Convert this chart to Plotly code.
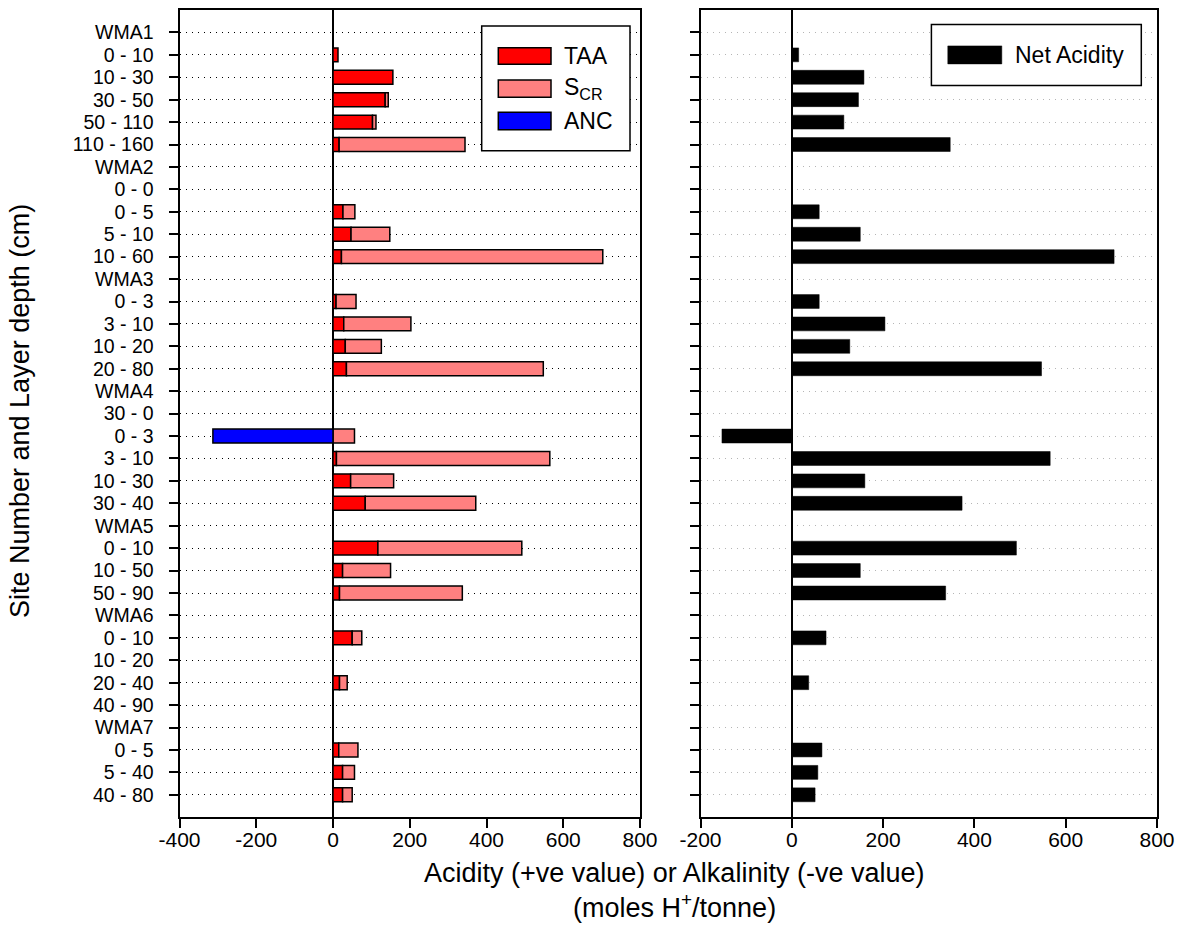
import plotly.graph_objects as go

# ---- data ----
row_labels = ["WMA1", "0 - 10", "10 - 30", "30 - 50", "50 - 110", "110 - 160",
              "WMA2", "0 - 0", "0 - 5", "5 - 10", "10 - 60",
              "WMA3", "0 - 3", "3 - 10", "10 - 20", "20 - 80",
              "WMA4", "30 - 0", "0 - 3", "3 - 10", "10 - 30", "30 - 40",
              "WMA5", "0 - 10", "10 - 50", "50 - 90",
              "WMA6", "0 - 10", "10 - 20", "20 - 40", "40 - 90",
              "WMA7", "0 - 5", "5 - 40", "40 - 80"]

taa = [None, 13, 156, 136, 103, 16,
       None, None, 26, 47, 22,
       None, 8, 28, 32, 35,
       None, None, None, 9, 46, 84,
       None, 117, 25, 17,
       None, 50, None, 17, None,
       None, 15, 25, 25]

scr = [None, None, None, 8, 9, 328,
       None, None, 31, 101, 681,
       None, 52, 175, 94, 513,
       None, None, 56, 556, 112, 288,
       None, 375, 125, 320,
       None, 25, None, 20, None,
       None, 50, 31, 25]

anc = [None, None, None, None, None, None,
       None, None, None, None, None,
       None, None, None, None, None,
       None, None, -313, None, None, None,
       None, None, None, None,
       None, None, None, None, None,
       None, None, None, None]

net_acidity = [None, 15, 158, 146, 114, 347,
               None, None, 60, 150, 706,
               None, 60, 204, 127, 547,
               None, None, -153, 566, 160, 373,
               None, 492, 150, 337,
               None, 75, None, 37, None,
               None, 66, 57, 51]

left_ticks = [-400, -200, 0, 200, 400, 600, 800]
right_ticks = [-200, 0, 200, 400, 600, 800]

rows = list(range(len(row_labels)))

W, H = 1191, 949
FONT = "Liberation Sans, Arial, sans-serif"


def px(x):
    return x / W


def py(y):
    return 1 - y / H


fig = go.Figure()

bar_w = 0.62
outline = dict(color="black", width=1.5)

fig.add_trace(go.Bar(y=rows, x=taa, orientation="h", name="TAA",
                     marker=dict(color="#FF0000", line=outline), width=bar_w,
                     xaxis="x", yaxis="y", showlegend=False))
fig.add_trace(go.Bar(y=rows, x=scr, orientation="h", name="S<sub>CR</sub>",
                     marker=dict(color="#FF8080", line=outline), width=bar_w,
                     xaxis="x", yaxis="y", showlegend=False))
fig.add_trace(go.Bar(y=rows, x=anc, orientation="h", name="ANC",
                     marker=dict(color="#0000FF", line=outline), width=bar_w,
                     xaxis="x", yaxis="y", showlegend=False))
fig.add_trace(go.Bar(y=rows, x=net_acidity, orientation="h", name="Net Acidity",
                     marker=dict(color="black", line=dict(color="black", width=0.5)),
                     width=bar_w, xaxis="x2", yaxis="y2", showlegend=False))

xtickfont = dict(family=FONT, size=21, color="black")
ytickfont = dict(family=FONT, size=19.5, color="black")

common_x = dict(showline=True, mirror=True, linecolor="black", linewidth=2,
                ticks="outside", ticklen=9, tickwidth=1.5, tickcolor="black",
                showgrid=False, zeroline=True, zerolinecolor="black",
                zerolinewidth=1.5, tickfont=xtickfont, automargin=False,
                ticklabelstandoff=-6)
common_y = dict(showline=True, mirror=True, linecolor="black", linewidth=2,
                ticks="outside", ticklen=9, tickwidth=1.5, tickcolor="black",
                showgrid=True, gridwidth=1, zeroline=False,
                range=[34.99, -1.0], tickvals=rows, tickfont=ytickfont,
                automargin=False)

x_left = [px(179.5), px(640)]
x_right = [px(700.5), px(1157)]
y_dom = [py(817), py(10)]

fig.update_layout(
    width=W, height=H,
    margin=dict(l=0, r=0, t=0, b=0),
    paper_bgcolor="white", plot_bgcolor="white",
    barmode="relative",
    font=dict(family=FONT, color="black"),
    xaxis=dict(domain=x_left, range=[-400, 800], anchor="y",
               tickvals=left_ticks, ticktext=[str(v) for v in left_ticks], **common_x),
    xaxis2=dict(domain=x_right, range=[-200, 800], anchor="y2",
                tickvals=right_ticks, ticktext=[str(v) for v in right_ticks], **common_x),
    yaxis=dict(domain=y_dom, anchor="x", ticktext=row_labels, showticklabels=True,
               gridcolor="black", griddash="1px,5px", ticklabelstandoff=11, **common_y),
    yaxis2=dict(domain=y_dom, anchor="x2", ticktext=row_labels, showticklabels=False,
                gridcolor="#b5b5b5", griddash="1.5px,4.5px", **common_y),
)

shapes = []
annotations = []

# Legend 1 (left panel)
shapes.append(dict(type="rect", xref="paper", yref="paper",
                   x0=px(481.7), x1=px(630), y0=py(150.7), y1=py(26),
                   line=dict(color="black", width=1.5), fillcolor="white", layer="above"))
leg1 = [("TAA", "#FF0000", 47.7, 64.3),
        ("S<sub>CR</sub>", "#FF8080", 80, 97.3),
        ("ANC", "#0000FF", 112.3, 129.7)]
for txt, col, t, b in leg1:
    shapes.append(dict(type="rect", xref="paper", yref="paper",
                       x0=px(498.3), x1=px(551), y0=py(b), y1=py(t),
                       line=dict(color="black", width=1.5), fillcolor=col, layer="above"))
    annotations.append(dict(text=txt, xref="paper", yref="paper",
                            x=px(562), y=py((t + b) / 2), xanchor="left", yanchor="middle",
                            showarrow=False, font=dict(family=FONT, size=23, color="black")))

# Legend 2 (right panel)
shapes.append(dict(type="rect", xref="paper", yref="paper",
                   x0=px(931.4), x1=px(1141.3), y0=py(85.4), y1=py(24.5),
                   line=dict(color="black", width=1.5), fillcolor="white", layer="above"))
shapes.append(dict(type="rect", xref="paper", yref="paper",
                   x0=px(947.8), x1=px(1001.8), y0=py(63.9), y1=py(45.9),
                   line=dict(color="black", width=0.5), fillcolor="black", layer="above"))
annotations.append(dict(text="Net Acidity", xref="paper", yref="paper",
                        x=px(1013), y=py(55), xanchor="left", yanchor="middle",
                        showarrow=False, font=dict(family=FONT, size=23, color="black")))

# Axis titles
annotations.append(dict(text="Site Number and Layer depth (cm)", xref="paper", yref="paper",
                        x=px(20), y=py(411), xanchor="center", yanchor="middle",
                        textangle=-90, showarrow=False,
                        font=dict(family=FONT, size=27, color="black")))
annotations.append(dict(text="Acidity (+ve value) or Alkalinity (-ve value)",
                        xref="paper", yref="paper", x=px(674), y=py(873),
                        xanchor="center", yanchor="middle", showarrow=False,
                        font=dict(family=FONT, size=27, color="black")))
annotations.append(dict(text="(moles H<sup>+</sup>/tonne)",
                        xref="paper", yref="paper", x=px(674), y=py(906),
                        xanchor="center", yanchor="middle", showarrow=False,
                        font=dict(family=FONT, size=27, color="black")))

fig.update_layout(shapes=shapes, annotations=annotations)

fig.write_html("out.html")
